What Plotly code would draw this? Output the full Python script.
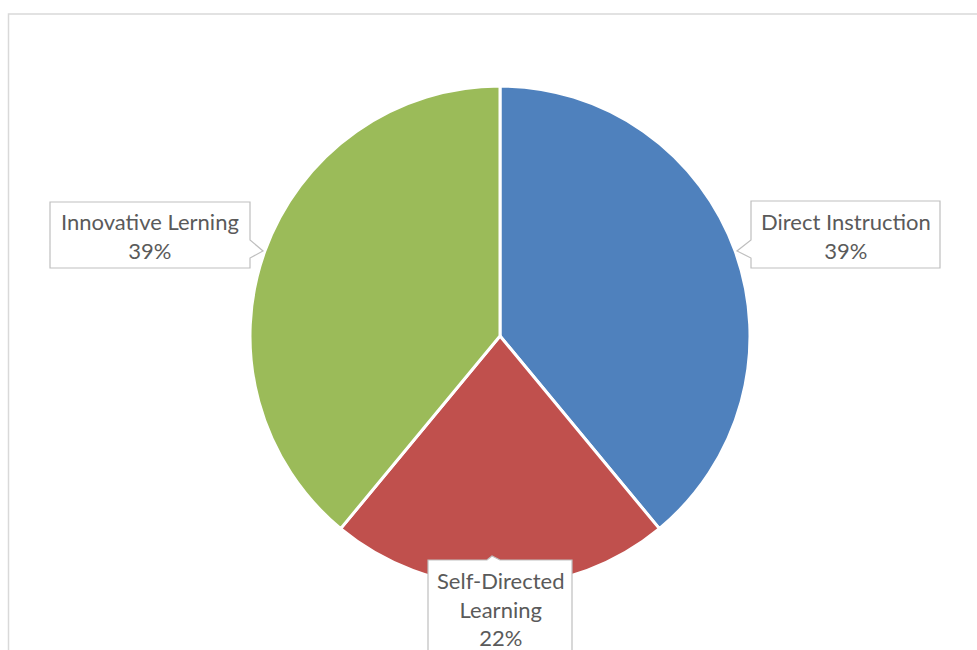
import plotly.graph_objects as go

# Data
categories = ["Direct Instruction", "Self-Directed Learning", "Innovative Lerning"]
shares = [39, 22, 39]
colors = ["#4F81BD", "#C0504D", "#9BBB59"]
label_lines = [["Direct Instruction"], ["Self-Directed", "Learning"], ["Innovative Lerning"]]

W, H = 977, 650
CX, CY, R = 500, 336, 250


def px(x):
    return x / W


def py(y):
    return 1 - y / H


def path(points):
    return "M " + " L ".join(f"{px(x):.5f},{py(y):.5f}" for x, y in points) + " Z"


fig = go.Figure(
    go.Pie(
        labels=categories,
        values=shares,
        sort=False,
        direction="clockwise",
        rotation=0,
        marker=dict(colors=colors, line=dict(color="white", width=3)),
        textinfo="none",
        hoverinfo="label+percent",
        domain=dict(x=[px(CX - R), px(CX + R)], y=[py(CY + R), py(CY - R)]),
        showlegend=False,
    )
)

grey = "#BFBFBF"
shapes = [
    # chart area frame
    dict(type="rect", xref="paper", yref="paper",
         x0=px(8.5), x1=px(1100), y0=py(14), y1=py(800),
         line=dict(color="#D9D9D9", width=1.5), fillcolor="rgba(0,0,0,0)", layer="below"),
    # callout: Direct Instruction (notch on the left)
    dict(type="path", xref="paper", yref="paper",
         path=path([(751, 201), (940, 201), (940, 268), (751, 268), (751, 258), (737, 251), (751, 240)]),
         fillcolor="white", line=dict(color=grey, width=1.2)),
    # callout: Innovative Lerning (notch on the right)
    dict(type="path", xref="paper", yref="paper",
         path=path([(50, 202), (250, 202), (250, 240), (263, 251), (250, 258), (250, 268), (50, 268)]),
         fillcolor="white", line=dict(color=grey, width=1.2)),
    # callout: Self-Directed Learning (notch on top)
    dict(type="path", xref="paper", yref="paper",
         path=path([(428, 560), (487, 560), (492, 556), (500, 560), (572, 560), (572, 700), (428, 700)]),
         fillcolor="white", line=dict(color=grey, width=1.2)),
]

font = dict(family="Lato, 'Open Sans', sans-serif", size=22, color="#5A5A5A")
pct = [f"{round(100 * v / sum(shares))}%" for v in shares]
label_pos = [(845.5, 236), (500, 609), (150, 236)]

annotations = []
for lines, p, (x, y) in zip(label_lines, pct, label_pos):
    annotations.append(dict(
        x=px(x), y=py(y), xref="paper", yref="paper",
        text="<br>".join(lines + [p]), showarrow=False,
        xanchor="center", yanchor="middle", align="center",
        font=font,
    ))

fig.update_layout(
    width=W, height=H,
    margin=dict(l=0, r=0, t=0, b=0),
    paper_bgcolor="white",
    plot_bgcolor="white",
    shapes=shapes,
    annotations=annotations,
)

fig.write_html("out.html")
